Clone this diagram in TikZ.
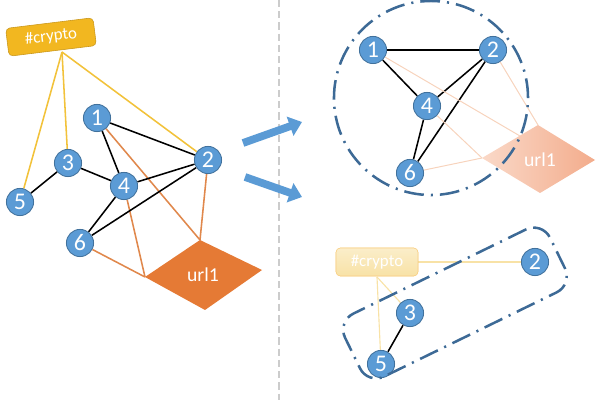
\documentclass[tikz,border=0pt]{standalone}
\usepackage{fontspec}
\setmainfont{Carlito}
\usetikzlibrary{arrows.meta,backgrounds}

\definecolor{nodeblue}{HTML}{5B9BD5}
\definecolor{nodeline}{HTML}{41719C}
\definecolor{cryptofill}{HTML}{F2B720}
\definecolor{cryptoline}{HTML}{C9961A}
\definecolor{cryptoedge}{HTML}{F2C23A}
\definecolor{urlfill}{HTML}{E57A35}
\definecolor{urledge}{HTML}{E0884C}
\definecolor{fadeedge}{HTML}{F7D3BC}
\definecolor{fadeyellow}{HTML}{F8E2A6}
\definecolor{fadeurlA}{HTML}{FAD9C8}
\definecolor{fadeurlB}{HTML}{F3AC8C}
\definecolor{framecol}{HTML}{3D6A96}

\begin{document}
\begin{tikzpicture}[x=0.025cm, y=-0.025cm,
    user/.style = {circle,
                   draw = nodeline,
                   fill = nodeblue,
                   line width = 0.6pt,
                   text = white,
                   inner sep = 0pt,
                   minimum size = 0.68cm,
                   font = \fontsize{17}{17}\selectfont},
    tag/.style = {rectangle,
                  rounded corners = 3pt,
                  draw = cryptoline,
                  fill = cryptofill,
                  text = white,
                  minimum width = 2.2cm,
                  minimum height = 0.7cm,
                  font = \fontsize{12}{12}\selectfont},
    frame/.style = {draw = framecol,
                    line width = 1.8pt,
                    dash pattern = on 14pt off 5pt on 1.5pt off 5pt},
    bigarrow/.style = {draw = nodeblue,
                       line width = 5.5pt,
                       -{Triangle[length=9pt,width=14pt]}},
    black edge/.style = {draw = black, line width = 1.1pt},
    cryp edge/.style = {draw = cryptoedge, line width = 1.1pt},
    url edge/.style = {draw = urledge, line width = 1.1pt},
    fade edge/.style = {draw = fadeedge, line width = 0.7pt},
    fadecryp edge/.style = {draw = fadeyellow, line width = 0.8pt}]

    \useasboundingbox (0,0) rectangle (600,400);

    % separator
    \draw[gray!40, line width = 1.5pt, dash pattern = on 5pt off 3pt] (279,0) -- (279,400);

    %left graph
    \coordinate (ulL) at (145,277);
    \coordinate (ulT) at (200,240);
    \coordinate (ulR) at (262,270);
    \coordinate (ulB) at (205,310);
    \fill[urlfill] (ulL) -- (ulT) -- (ulR) -- (ulB) -- cycle;
    \node[text = white, font = \fontsize{14}{14}\selectfont] (url) at (203,275) {url1};

    \node[tag, rotate = 7] (cryp) at (51,37) {\#crypto};
    \coordinate (cl) at (62,52);

    \node[user] (n1) at (97,118) {1};
    \node[user] (n2) at (208,160) {2};
    \node[user] (n3) at (68,163) {3};
    \node[user] (n4) at (124,186) {4};
    \node[user] (n5) at (20,202) {5};
    \node[user] (n6) at (80,243) {6};

    \begin{scope}[on background layer]
    \path
    (cl) edge [cryp edge] (n5)
    (cl) edge [cryp edge] (n3)
    (cl) edge [cryp edge] (n2)
    (n1) edge [url edge] (ulT)
    (n2) edge [url edge] (ulT)
    (n4) edge [url edge] (ulL)
    (n6) edge [url edge] (ulL)
    (n1) edge [black edge] (n2)
    (n1) edge [black edge] (n4)
    (n3) edge [black edge] (n4)
    (n3) edge [black edge] (n5)
    (n4) edge [black edge] (n2)
    (n4) edge [black edge] (n6)
    (n6) edge [black edge] (n2);
    \end{scope}

    % arrows
    \coordinate (a1s) at (243,143);
    \coordinate (a1e) at (302,122);
    \coordinate (a2s) at (245,177);
    \coordinate (a2e) at (302,197);
    \draw[bigarrow] (a1s) -- (a1e);
    \draw[bigarrow] (a2s) -- (a2e);

    %upper right: community
    \coordinate (tuL) at (482,158);
    \coordinate (tuT) at (538,125);
    \coordinate (tuR) at (595,160);
    \coordinate (tuB) at (540,193);
    \coordinate (tuE) at (520,136);
    \shade[left color = fadeurlA, right color = fadeurlB] (tuL) -- (tuT) -- (tuR) -- (tuB) -- cycle;
    \node[text = white, font = \fontsize{14}{14}\selectfont] (turl) at (540,160) {url1};

    \node[user] (t1) at (373,50) {1};
    \node[user] (t2) at (493,50) {2};
    \node[user] (t4) at (427,106) {4};
    \node[user] (t6) at (410,173) {6};

    \path
    (t1) edge [fade edge] (tuE)
    (t2) edge [fade edge] (tuT)
    (t4) edge [fade edge] (tuL)
    (t6) edge [fade edge] (tuL);
    \begin{scope}[on background layer]
    \path
    (t1) edge [black edge] (t2)
    (t1) edge [black edge] (t4)
    (t4) edge [black edge] (t2)
    (t2) edge [black edge] (t6)
    (t4) edge [black edge] (t6);
    \end{scope}

    \node[frame, circle, minimum size = 4.85cm] (ring) at (431,98) {};

    %lower right: community
    \node[tag, draw = fadeyellow!80!orange, top color = fadeyellow!60, bottom color = fadeyellow,
          minimum width = 2.05cm] (bc) at (377,262) {\#crypto};
    \coordinate (bcs) at (377,277);

    \node[user] (b2) at (535,262) {2};
    \node[user] (b3) at (410,313) {3};
    \node[user] (b5) at (381,364) {5};

    \begin{scope}[on background layer]
    \path
    (bc.east) edge [fadecryp edge] (b2)
    (bcs) edge [fadecryp edge] (b3)
    (bcs) edge [fadecryp edge] (b5)
    (b3) edge [black edge] (b5);
    \end{scope}

    \node[frame, rectangle, rounded corners = 0.45cm, rotate = 26,
          minimum width = 5.7cm, minimum height = 1.75cm] (box) at (455,303) {};

\end{tikzpicture}
\end{document}
